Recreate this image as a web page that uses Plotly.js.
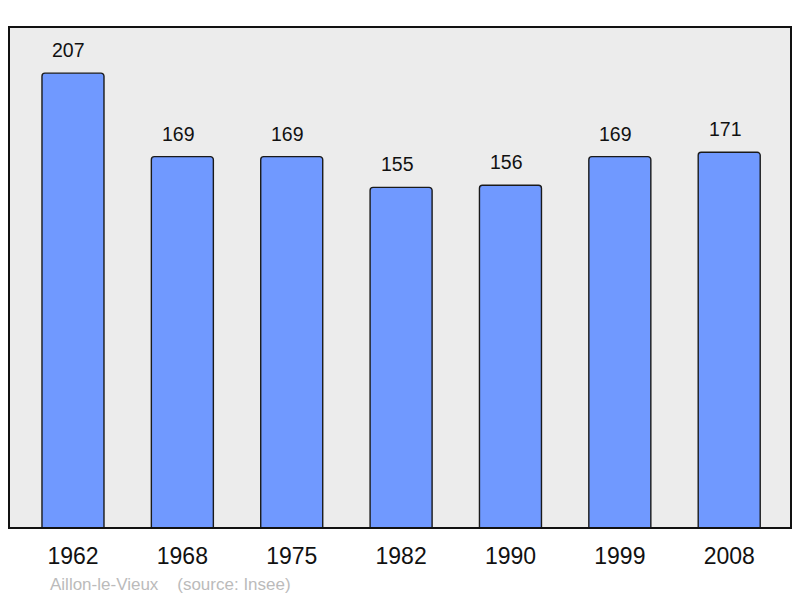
<!DOCTYPE html>
<html>
<head>
<meta charset="utf-8">
<script src="https://cdn.plot.ly/plotly-3.0.1.min.js"></script>
<style>html,body{margin:0;padding:0;background:#fff;}#chart{width:800px;height:598px;}</style>
</head>
<body>
<div id="chart"></div>
<script>
const years = ["1962","1968","1975","1982","1990","1999","2008"];
const population = [207,169,169,155,156,169,171];

const trace = {
  type: "bar",
  x: years,
  y: population,
  width: 0.567,
  marker: {color: "#7099ff", line: {color: "#1a1a1a", width: 1.4}, cornerradius: 3},
  hoverinfo: "skip"
};

const annotations = years.map((yr, i) => ({
  x: i, y: population[i], xref: "x", yref: "y",
  text: String(population[i]), showarrow: false,
  yanchor: "bottom", yshift: 10, xshift: -4,
  font: {family: "Liberation Sans, Arial, sans-serif", size: 19.5, color: "#111"}
}));
annotations.push({
  xref: "paper", yref: "paper", x: 0.05, y: -0.112, xanchor: "left", yanchor: "middle",
  text: "Aillon-le-Vieux&nbsp;&nbsp;&nbsp;&nbsp;(source: Insee)", showarrow: false,
  font: {family: "Liberation Sans, Arial, sans-serif", size: 17, color: "#bbbbbb"}
});

const layout = {
  width: 800, height: 598,
  margin: {l: 9, r: 9, t: 27, b: 70, pad: 0},
  paper_bgcolor: "#ffffff",
  plot_bgcolor: "#ececec",
  showlegend: false,
  xaxis: {
    type: "category", range: [-0.585, 6.565],
    showgrid: false, zeroline: false, showline: false, ticks: "",
    tickfont: {family: "Liberation Sans, Arial, sans-serif", size: 23, color: "#111"},
    ticklabelstandoff: 12
  },
  yaxis: {
    range: [0, 228], showgrid: false, zeroline: false, showline: false,
    showticklabels: false, ticks: ""
  },
  shapes: [{
    type: "rect", xref: "paper", yref: "paper", x0: 0, x1: 1, y0: 0, y1: 1,
    line: {color: "#111", width: 2}, layer: "above"
  }],
  annotations: annotations
};

Plotly.newPlot("chart", [trace], layout, {staticPlot: true, displayModeBar: false});
</script>
</body>
</html>
